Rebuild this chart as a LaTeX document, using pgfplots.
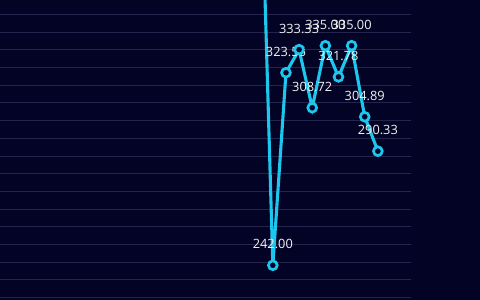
\documentclass[border=0pt]{standalone}
\usepackage{pgfplots}
\pgfplotsset{compat=1.18}
\usepackage{fontspec}
\setmainfont{Open Sans}
\definecolor{bg}{RGB}{3,3,38}
\definecolor{gridc}{RGB}{38,36,76}
\definecolor{linec}{RGB}{28,198,236}
\definecolor{labc}{RGB}{242,242,242}
\begin{document}
\begin{tikzpicture}
\clip (0,0) rectangle (480pt,300pt);
\fill[bg] (0,0) rectangle (480pt,300pt);
\begin{axis}[
  at={(0,0)}, anchor=south west,
  scale only axis, width=410.7pt, height=300pt,
  xmin=-20.78, xmax=10.5,
  ymin=227.30, ymax=354.35,
  axis line style={draw=none},
  major tick length=0pt,
  xtick=\empty,
  ytick={228.28,235.78,243.28,250.78,258.28,265.78,273.28,280.78,288.28,295.78,303.28,310.78,318.28,325.78,333.28,340.78,348.28},
  yticklabels={},
  ymajorgrids,
  grid style={gridc, line width=1pt},
  clip=true,
  /pgf/number format/assume math mode=true,
]
\addplot[linec, line width=3.1pt, mark=*, mark size=4.4pt,
  mark options={line width=2.7pt, fill=bg, draw=linec},
  nodes near coords={\pgfmathprintnumber[fixed,fixed zerofill,precision=2,assume math mode=true]{\pgfplotspointmeta}},
  point meta=y,
  every node near coord/.append style={anchor=center, yshift=21pt, text=labc, font=\fontsize{12.8}{14}\selectfont, inner sep=0pt},
] coordinates {
  (-1,432) (0,242.00) (1,323.56) (2,333.33) (3,308.72) (4,335.00) (5,321.78) (6,335.00) (7,304.89) (8,290.33)
};
\end{axis}
\end{tikzpicture}
\end{document}
